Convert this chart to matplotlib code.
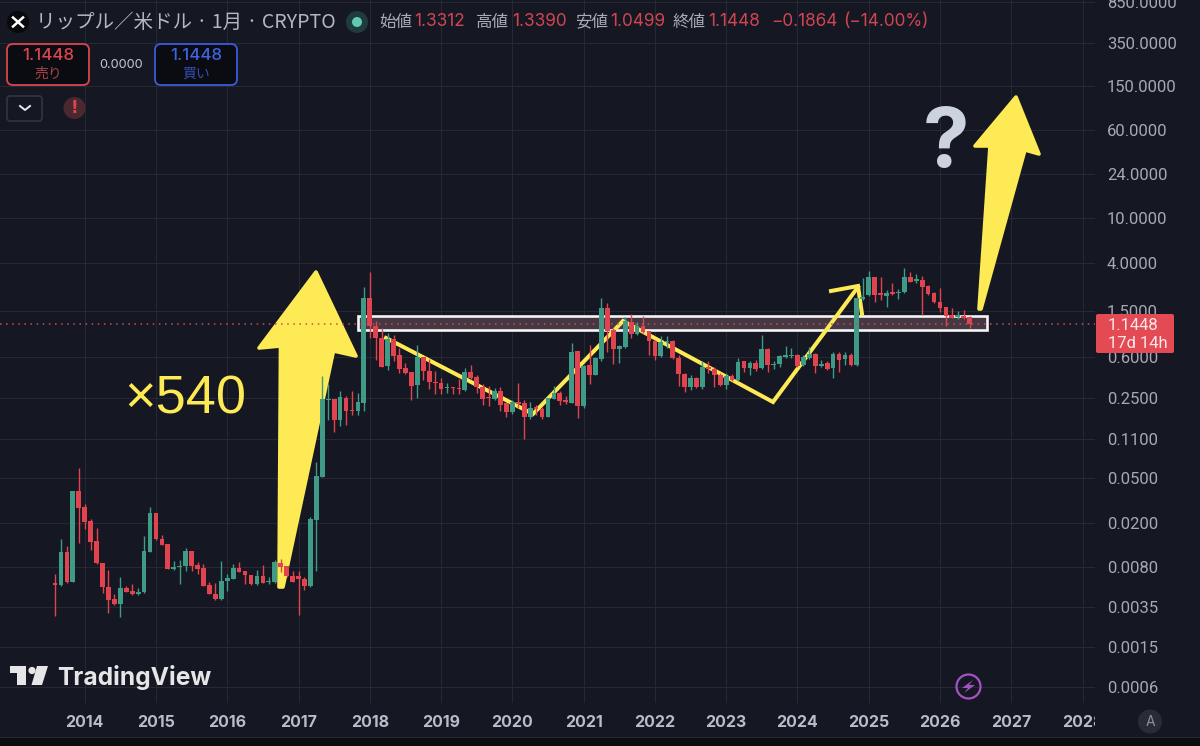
import matplotlib
matplotlib.use("Agg")
import matplotlib.pyplot as plt
from matplotlib.patches import Polygon, Rectangle, Circle, FancyBboxPatch
from matplotlib.lines import Line2D
from matplotlib.transforms import Affine2D

# ---- monthly candles, Aug 2013 onward (USD) ----
opens = [.00539,.00521,.0103,.00557,.0366,.0261,.0196,.0128,.0082,.0050,.00391,.00353,.00486,.00459,.00432,.00447,.0104,.0231,.0135,.0121,
 .00731,.0075,.00772,.0106,.00787,.00739,.00521,.00435,.00391,.00562,.00593,.00745,.00695,.0064,.00528,.00622,.00553,.00553,.00825,.00765,
 .00631,.00631,.00585,.0051,.0201,.0488,.238,.241,.157,.25,.194,.19,.225,1.95,1.108,.863,.482,.835,.60,.458,
 .423,.322,.575,.437,.349,.339,.305,.314,.307,.293,.428,.386,.314,.255,.245,.285,.222,.184,.227,.222,
 .166,.206,.197,.168,.245,.274,.238,.225,.65,.21,.488,.40,.553,1.585,1.013,.68,.718,1.19,.925,1.11,
 .985,.81,.592,.785,.805,.572,.41,.314,.374,.312,.475,.455,.403,.325,.394,.361,.528,.46,.509,.46,
 .68,.488,.502,.584,.588,.605,.488,.57,.62,.481,.512,.46,.617,.553,.605,.488,1.91,2.09,3.05,2.19,
 2.06,2.22,2.16,2.21,3.05,2.79,2.85,2.51,2.16,1.82,1.62,1.38,1.334,1.36,1.3312]
highs = [.00648,.0136,.0117,.0366,.0581,.0276,.0205,.0170,.0082,.00705,.00432,.0061,.00514,.00531,.00493,.0143,.0263,.0231,.0146,.0121,
 .0086,.00872,.0112,.0106,.00831,.00808,.00555,.00546,.00854,.00653,.00803,.00842,.0070,.0064,.0071,.0079,.00618,.00872,.00893,.00765,
 .0070,.0070,.00615,.0214,.0666,.391,.331,.241,.289,.259,.289,.274,2.48,3.34,1.22,1.05,.945,.904,.693,.513,
 .423,.747,.584,.553,.437,.375,.339,.314,.366,.465,.495,.397,.331,.318,.303,.31,.222,.238,.341,.238,
 .227,.216,.208,.25,.32,.287,.259,.78,.65,.49,.743,.584,1.95,1.758,1.05,.75,1.334,1.41,1.205,1.35,
 .985,.824,.894,.894,.824,.605,.414,.40,.38,.537,.534,.475,.42,.414,.408,.565,.534,.528,.545,.914,
 .695,.537,.605,.728,.695,.613,.605,.718,.625,.545,.528,.648,.648,.648,.625,1.95,2.95,3.45,3.05,3.0,
 2.316,2.66,2.35,3.62,3.34,3.23,3.09,2.57,2.24,2.43,1.641,1.585,1.5,1.531,1.339]
lows = [.00277,.00514,.00546,.0055,.0123,.0166,.0107,.00803,.00444,.0029,.00344,.00269,.00447,.00426,.00426,.00438,.0103,.0132,.0118,.00722,
 .0071,.00531,.00695,.0070,.00653,.00507,.00429,.00385,.00382,.00462,.00585,.00676,.00531,.00521,.00521,.00539,.00528,.00546,.00685,.00618,
 .0055,.00282,.00466,.00496,.0070,.0482,.158,.1223,.1405,.143,.174,.173,.191,.852,.545,.468,.443,.534,.414,.405,
 .238,.246,.361,.30,.27,.27,.277,.268,.27,.287,.37,.274,.216,.212,.238,.191,.169,.179,.20,.1058,
 .162,.175,.162,.167,.243,.213,.22,.222,.163,.204,.33,.397,.537,.648,.50,.509,.695,.85,.91,.958,
 .60,.545,.584,.695,.556,.32,.283,.293,.303,.30,.414,.31,.32,.30,.352,.355,.428,.403,.434,.449,
 .428,.449,.468,.567,.57,.475,.481,.553,.414,.468,.443,.375,.428,.495,.481,.481,1.883,2.045,1.79,1.883,
 1.62,2.09,1.91,2.16,2.73,2.66,1.38,2.09,1.758,1.48,1.10,1.29,1.27,1.26,1.0499]
closes = [.00524,.0103,.00557,.0366,.0257,.0192,.0127,.00814,.00496,.00385,.0035,.00486,.00453,.00432,.00453,.0105,.0231,.0134,.012,.00726,
 .0075,.00778,.0106,.00778,.00726,.00514,.00432,.00391,.00569,.00597,.00739,.00685,.00635,.00528,.00622,.00546,.00569,.00836,.0076,.00627,
 .00557,.00585,.0051,.0203,.0495,.241,.245,.157,.253,.19,.19,.227,1.96,1.10,.863,.475,.844,.588,.45,.417,
 .32,.575,.433,.346,.336,.297,.314,.305,.299,.425,.375,.31,.245,.246,.289,.215,.184,.23,.219,.166,
 .204,.197,.167,.25,.274,.233,.23,.645,.212,.483,.40,.565,1.585,1.0,.68,.73,1.22,.925,1.10,.97,
 .80,.592,.795,.81,.565,.405,.314,.372,.314,.468,.452,.397,.325,.39,.358,.52,.46,.509,.455,.68,
 .488,.502,.592,.60,.605,.484,.576,.617,.481,.505,.455,.613,.548,.605,.488,1.95,2.017,3.05,2.09,2.10,
 2.19,2.13,2.24,3.03,2.75,2.89,2.48,2.12,1.8,1.585,1.36,1.31,1.38,1.31,1.1448]

year_labels = ["2014","2015","2016","2017","2018","2019","2020","2021","2022","2023","2024","2025","2026","2027","2028"]
price_tick_values = [891,382,158,63,25.5,10.25,4.05,1.5,.579,.248,.1064,.0475,.01875,.00755,.0033,.001445,.000632]
price_tick_labels = ["850.0000","350.0000","150.0000","60.0000","24.0000","10.0000","4.0000","1.5000","0.6000","0.2500",
                     "0.1100","0.0500","0.0200","0.0080","0.0035","0.0015","0.0006"]
last_price = closes[-1]

BG="#151722"; GRID="#262833"; UP="#3f9b86"; DOWN="#e2444f"; YEL="#fdea55"; AXT="#a6a9b3"
W,H=1200,746
fig=plt.figure(figsize=(W/100,H/100),dpi=100,facecolor=BG)
ax=fig.add_axes([0,1-703/H,1095/W,703/H],facecolor=BG)
px=Affine2D().scale(1,-1).translate(0,H)   # screen pixels, y down

x=list(range(len(closes)))
ax.set_yscale("log")
ax.set_xlim(-9.26,175.1)
ax.set_ylim(10**((330.6-703)/111.4),10**(330.6/111.4))
for s in ax.spines.values(): s.set_visible(False)
ax.set_xticks([5+12*i for i in range(len(year_labels))])
ax.set_xticklabels(year_labels,family="Inter",fontsize=11.5,fontweight="bold",color="#b9bcc9")
ax.tick_params(axis="x",length=0,pad=8.4)
ax.yaxis.tick_right()
ax.set_yticks(price_tick_values); ax.set_yticklabels(price_tick_labels,family="Roboto",fontsize=12,color=AXT,ha="left")
ax.minorticks_off()
ax.tick_params(axis="y",length=0,pad=8.6,which="both")
ax.grid(True,color=GRID,lw=.75); ax.set_axisbelow(True)

# hand-drawn annotations (below candles)
def poly(pts,**k):
    p=Polygon(pts,closed=True,transform=px,clip_on=False,**k); ax.add_patch(p)
arrow1=[(316,272),(356,356),(333.5,351),(283,587),(279,587),(280.5,346),(259,348)]
arrow2=[(1016,97),(1039,154),(1025,150),(981,309),(979,309),(990,146),(975,146)]
for a in (arrow1,arrow2):
    poly(a,facecolor=YEL,edgecolor=YEL,lw=2.6,joinstyle="round",zorder=2)
ax.add_patch(Rectangle((358,316),629,14,transform=px,facecolor="#453842",edgecolor="#f4f4f4",lw=1.9,zorder=2.1,clip_on=False))
for pts in ([(386,338),(533,414),(623,321),(773,402),(858,287)],[(831,291),(858,286),(862,314)]):
    ax.add_line(Line2D(*zip(*pts),transform=px,color=YEL,lw=2.9,solid_joinstyle="miter",zorder=2.2,clip_on=False))

# candles
for i,o,h,l,c in zip(x,opens,highs,lows,closes):
    col=UP if c>=o else DOWN
    ax.vlines(i,l,h,color=col,lw=1.0,zorder=3)
    ax.bar(i,abs(c-o),bottom=min(o,c),width=.8,color=col,linewidth=0,zorder=3)
ax.axhline(last_price,color="#cf4a55",lw=1.1,dashes=(1,3),zorder=4)

# overlay helpers
def T(xp,yp,s,**k):
    k.setdefault("ha","center"); k.setdefault("va","center")
    return fig.text(xp,yp,s,transform=px,zorder=10,**k)
def P(a):
    a.set_transform(px); a.set_zorder(9); fig.add_artist(a); return a
JP=["Noto Sans CJK JP","DejaVu Sans"]

# clip of the axis strip
P(Rectangle((1095,705),105,32,facecolor=BG,lw=0))
P(Rectangle((0,737),1200,9,facecolor="#0d0d0e",lw=0))
P(Rectangle((0,737),1200,1,facecolor="#2a2b30",lw=0))

# header
P(Circle((18,22),11,facecolor="#08090c",lw=0))
P(Line2D([13,23],[17.5,26.5],color="white",lw=1.8)); P(Line2D([23,13],[17.5,26.5],color="white",lw=1.8))
T(36,22,"リップル／米ドル · 1月 · CRYPTO",family=JP,fontsize=14.05,color="#b4b7c0",ha="left")
P(Circle((357,22),11,facecolor="#1e3b3d",lw=0)); P(Circle((357,22),5,facecolor="#63c9ae",lw=0))
GR="#a9acb5"; RD="#cf4652"
for xp,s,c in [(379,"始値",GR),(414,"1.3312",RD),(476,"高値",GR),(512,"1.3390",RD),(575,"安値",GR),(610,"1.0499",RD),
               (673,"終値",GR),(708,"1.1448",RD),(771,"−0.1864",RD),(843,"(−14.00%)",RD)]:
    T(xp,22,s,family=JP if c==GR else ["Inter","DejaVu Sans"],fontsize=11.9 if c==GR else 12.4,color=c,ha="left")
for x0,ec,tc,lc,l in [(7,"#d9464f","#d9464f","#a9424a","売り"),(155,"#3a5bdc","#3f63e0","#3450b8","買い")]:
    P(FancyBboxPatch((x0+4,48),74,33,boxstyle="round,pad=4,rounding_size=6",facecolor="#0b0c11",edgecolor=ec,lw=1.3))
    T(x0+41,56,"1.1448",family="Inter",fontsize=12.2,fontweight="medium",color=tc)
    T(x0+41,73.5,l,family=JP,fontsize=10,color=lc)
T(121.5,64.5,"0.0000",family="Inter",fontsize=9.2,color="#c5c8d0")
P(FancyBboxPatch((10,99),29,19,boxstyle="round,pad=3,rounding_size=3",facecolor=BG,edgecolor="#33353e",lw=1.2))
P(Line2D([20,25,30],[106,110,106],color="#e8e8ee",lw=1.4))
P(Circle((74.5,108),11,facecolor="#4b2730",lw=0))
T(74.5,108,"!",family="DejaVu Sans",fontsize=12,fontweight="bold",color="#dd4550")

# annotations text
T(185,400,"×540",family="Liberation Sans",fontsize=39,color=YEL)
T(946.5,145,"?",family="Inter",fontsize=60,fontweight="bold",color="#cdd3de")

# price tag
P(FancyBboxPatch((1098,316),74,35,boxstyle="round,pad=2,rounding_size=2",facecolor="#e34a54",lw=0))
T(1108,325,"1.1448",family="Roboto",fontsize=12,color="#fbe9ea",ha="left")
T(1108,343,"17d 14h",family="Roboto",fontsize=12,color="#fbe9ea",ha="left")

# TradingView logo
LG="#e6e6e8"
P(Polygon([(10,666),(26,666),(26,685),(17,685),(17,673),(10,673)],facecolor=LG,lw=0))
P(Circle((32,670.5),3.6,facecolor=LG,lw=0))
P(Polygon([(37,666),(48,666),(42,685),(31.5,685)],facecolor=LG,lw=0))
T(57,677,"TradingView",family="Inter",fontsize=17.7,fontweight="bold",color=LG,ha="left")

# lightning badge
P(Circle((968.5,686.5),12,facecolor="none",edgecolor="#a552c6",lw=1.6))
P(Polygon([(973,680),(962,688),(968,688),(964,693),(975,685),(969,685)],facecolor="#a552c6",lw=0))
# auto badge
P(Circle((1150,721.5),12,facecolor="#2a2c35",lw=0))
T(1150,721.5,"A",family="Inter",fontsize=10,color="#8b8e98")

fig.savefig("out.png",dpi=100,facecolor=BG)
